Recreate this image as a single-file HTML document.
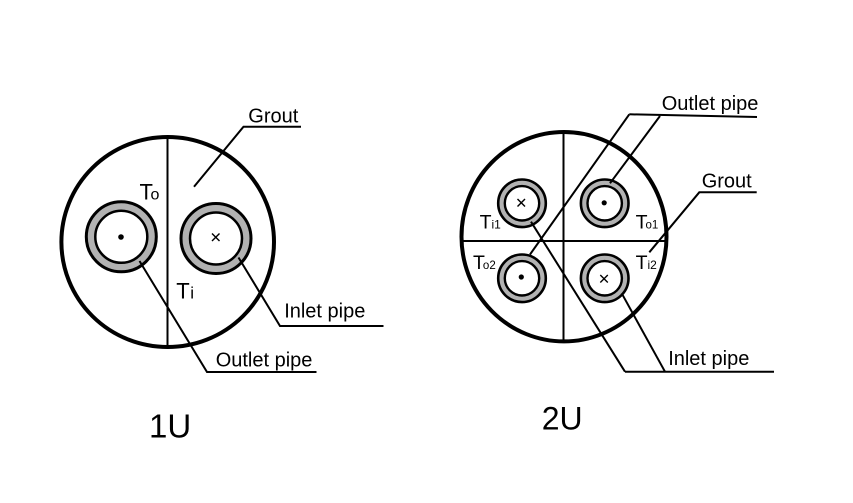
<!DOCTYPE html>
<html>
<head>
<meta charset="utf-8">
<style>
  html, body { margin:0; padding:0; background:#fff; }
  body { width:853px; height:503px; overflow:hidden; }
  svg { display:block; }
  text { font-family: "Liberation Sans", Arial, sans-serif; fill:#000; }
</style>
</head>
<body>
<svg width="853" height="503" viewBox="0 0 853 503" xmlns="http://www.w3.org/2000/svg">
  <!-- ================= 1U ================= -->
  <ellipse cx="167.7" cy="242" rx="106.3" ry="105" fill="none" stroke="#000" stroke-width="4"/>
  <line x1="167.5" y1="137" x2="167.5" y2="347" stroke="#000" stroke-width="2"/>

  <!-- left pipe (outlet) -->
  <circle cx="121.3" cy="236.8" r="35" fill="#b2b2b2" stroke="#000" stroke-width="3"/>
  <circle cx="121.3" cy="236.8" r="26" fill="#fff" stroke="#000" stroke-width="2.5"/>
  <circle cx="121" cy="237" r="2.8" fill="#000"/>

  <!-- right pipe (inlet) -->
  <circle cx="216" cy="238.5" r="35" fill="#b2b2b2" stroke="#000" stroke-width="3"/>
  <circle cx="216" cy="238.5" r="26" fill="#fff" stroke="#000" stroke-width="2.5"/>
  <line x1="212" y1="233.5" x2="219.5" y2="241" stroke="#000" stroke-width="1.4"/>
  <line x1="219.5" y1="233.5" x2="212" y2="241" stroke="#000" stroke-width="1.4"/>

  <!-- leaders 1U -->
  <polyline points="194,186.7 243.5,126.7 301,126.7" fill="none" stroke="#000" stroke-width="2"/>
  <polyline points="238.5,257.5 280,326 383.5,326" fill="none" stroke="#000" stroke-width="2"/>
  <polyline points="139.5,261 207,372 316.5,372" fill="none" stroke="#000" stroke-width="2"/>

  <!-- labels 1U -->
  <text x="248.3" y="122.7" font-size="20">Grout</text>
  <text x="284.2" y="317.3" font-size="20">Inlet pipe</text>
  <text x="215.7" y="366.7" font-size="20">Outlet pipe</text>
  <text x="139.5" y="199.3" font-size="22">T<tspan font-size="16" dx="-2.5">o</tspan></text>
  <text x="176.3" y="298.3" font-size="22">T<tspan font-size="17" dx="0.5">i</tspan></text>
  <text x="149" y="437.3" font-size="33">1U</text>

  <!-- ================= 2U ================= -->
  <ellipse cx="564" cy="236.7" rx="102.5" ry="104.7" fill="none" stroke="#000" stroke-width="4"/>
  <line x1="563.5" y1="132" x2="563.5" y2="341.5" stroke="#000" stroke-width="2"/>
  <line x1="461.6" y1="241" x2="666.4" y2="241" stroke="#000" stroke-width="2"/>

  <!-- top-left pipe (inlet) -->
  <circle cx="522" cy="203.3" r="23.8" fill="#b2b2b2" stroke="#000" stroke-width="2.6"/>
  <circle cx="522" cy="203.3" r="17.2" fill="#fff" stroke="#000" stroke-width="2.4"/>
  <line x1="517.5" y1="199" x2="525" y2="206.5" stroke="#000" stroke-width="1.4"/>
  <line x1="525" y1="199" x2="517.5" y2="206.5" stroke="#000" stroke-width="1.4"/>

  <!-- top-right pipe (outlet) -->
  <circle cx="604.7" cy="203.3" r="23.8" fill="#b2b2b2" stroke="#000" stroke-width="2.6"/>
  <circle cx="604.7" cy="203.3" r="17.2" fill="#fff" stroke="#000" stroke-width="2.4"/>
  <circle cx="604.2" cy="202.8" r="2.6" fill="#000"/>

  <!-- bottom-left pipe (outlet) -->
  <circle cx="522" cy="278.3" r="23.8" fill="#b2b2b2" stroke="#000" stroke-width="2.6"/>
  <circle cx="522" cy="278.3" r="17.2" fill="#fff" stroke="#000" stroke-width="2.4"/>
  <circle cx="521.3" cy="277" r="2.6" fill="#000"/>

  <!-- bottom-right pipe (inlet) -->
  <circle cx="604.7" cy="278.3" r="23.8" fill="#b2b2b2" stroke="#000" stroke-width="2.6"/>
  <circle cx="604.7" cy="278.3" r="17.2" fill="#fff" stroke="#000" stroke-width="2.4"/>
  <line x1="600.3" y1="275" x2="607.8" y2="282.5" stroke="#000" stroke-width="1.4"/>
  <line x1="607.8" y1="275" x2="600.3" y2="282.5" stroke="#000" stroke-width="1.4"/>

  <!-- leaders 2U -->
  <line x1="629.3" y1="114.3" x2="757" y2="117" stroke="#000" stroke-width="2"/>
  <line x1="629.3" y1="114.3" x2="530" y2="254.5" stroke="#000" stroke-width="2"/>
  <line x1="660" y1="116" x2="610" y2="183.3" stroke="#000" stroke-width="2"/>

  <polyline points="649.3,252.3 699.3,192.3 756.7,192.3" fill="none" stroke="#000" stroke-width="2"/>

  <line x1="625" y1="371.7" x2="774" y2="371.7" stroke="#000" stroke-width="2"/>
  <line x1="625" y1="371.7" x2="531" y2="221.7" stroke="#000" stroke-width="2"/>
  <line x1="665" y1="371.7" x2="621.7" y2="293.3" stroke="#000" stroke-width="2"/>

  <!-- labels 2U -->
  <text x="661.7" y="110" font-size="20">Outlet pipe</text>
  <text x="701.7" y="187.7" font-size="20">Grout</text>
  <text x="668.2" y="365" font-size="20">Inlet pipe</text>

  <text x="479.6" y="228.3" font-size="19.5">T<tspan font-size="12" dx="0">i1</tspan></text>
  <text x="635.6" y="228.3" font-size="19.5">T<tspan font-size="11.5" dx="-2">o1</tspan></text>
  <text x="473" y="269" font-size="19.5">T<tspan font-size="11.5" dx="-2">o2</tspan></text>
  <text x="635.6" y="269" font-size="19.5">T<tspan font-size="12" dx="0">i2</tspan></text>

  <text x="541.7" y="429.3" font-size="32">2U</text>
</svg>
</body>
</html>
